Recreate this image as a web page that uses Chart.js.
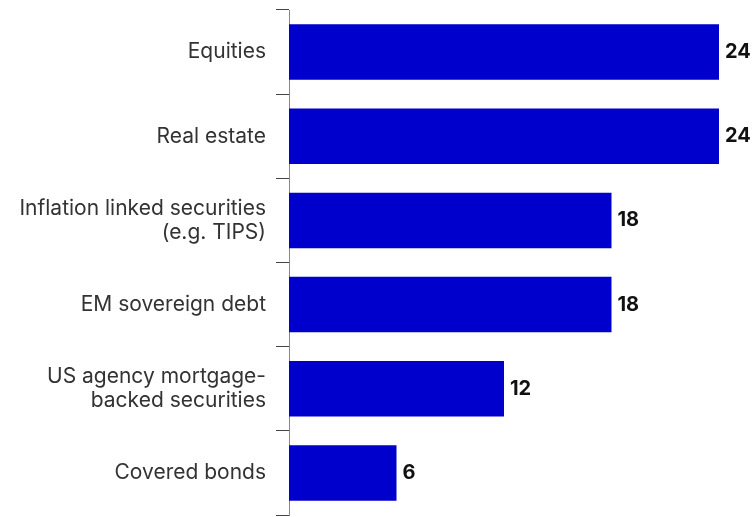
<!DOCTYPE html>
<html>
<head>
<meta charset="utf-8">
<script src="https://cdn.jsdelivr.net/npm/chart.js@4/dist/chart.umd.min.js"></script>
<style>
  html, body { margin: 0; padding: 0; background: #fff; }
  #wrap { width: 754px; height: 517px; }
</style>
</head>
<body>
<div id="wrap"><canvas id="assets-chart"></canvas></div>
<script>
const categories = [
  "Equities",
  "Real estate",
  ["Inflation linked securities", "(e.g. TIPS)"],
  "EM sovereign debt",
  ["US agency mortgage-", "backed securities"],
  "Covered bonds"
];
const values = [24, 24, 18, 18, 12, 6];

// draws the number just past the end of each bar
const valueLabels = {
  id: "valueLabels",
  afterDatasetsDraw(chart) {
    const ctx = chart.ctx;
    const meta = chart.getDatasetMeta(0);
    ctx.save();
    ctx.font = "bold 20px Inter, Roboto, sans-serif";
    ctx.fillStyle = "#111";
    ctx.textAlign = "left";
    ctx.textBaseline = "middle";
    meta.data.forEach((bar, i) => {
      ctx.fillText(values[i], bar.x + 6, bar.y);
    });
    ctx.restore();
  }
};

const ctx = document.getElementById("assets-chart").getContext("2d");
const assetsChart = new Chart(ctx, {
  type: "bar",
  data: {
    labels: categories,
    datasets: [
      {
        label: "Assets",
        data: values,
        backgroundColor: "#0000CC",
        categoryPercentage: 0.66,
        barPercentage: 1
      }
    ]
  },
  options: {
    indexAxis: "y",
    responsive: true,
    maintainAspectRatio: false,
    animation: false,
    layout: { padding: { top: 10, bottom: 2, right: 35, left: 0 } },
    plugins: {
      legend: { display: false },
      tooltip: { enabled: false }
    },
    scales: {
      x: {
        display: false,
        min: 0,
        max: 24
      },
      y: {
        afterFit: (scale) => {
          scale.width = 289;
          scale.paddingTop = 0;
          scale.paddingBottom = 0;
        },
        border: { display: true, color: "#888", width: 1 },
        grid: {
          offset: true,
          drawOnChartArea: false,
          drawTicks: true,
          tickLength: 13,
          color: "#444"
        },
        ticks: {
          padding: 10,
          color: "#333",
          font: { family: "Inter, Roboto, sans-serif", size: 21, lineHeight: 1.15 }
        }
      }
    }
  },
  plugins: [valueLabels]
});
</script>
</body>
</html>
